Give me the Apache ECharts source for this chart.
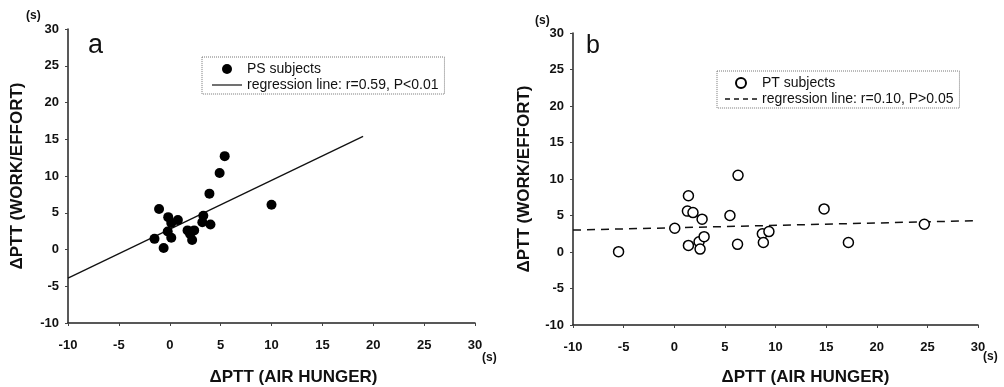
<!DOCTYPE html>
<html>
<head>
<meta charset="utf-8">
<style>
  html, body { margin: 0; padding: 0; background: #fff; }
  #chart { width: 1004px; height: 387px; }
</style>
<script src="https://cdn.jsdelivr.net/npm/echarts@6/dist/echarts.min.js"></script>
</head>
<body>
<div id="chart"></div>
<script>
// panel a - PS subjects
const psAir  = [-1.5, -1.05, -0.6, -0.15, -0.2, 0.15, 0.15, 0.8, 1.75, 2.0, 2.2, 2.4, 3.3, 3.2, 4.0, 3.9, 4.9, 5.4, 10.0];
const psWork = [1.45, 5.5, 0.2, 4.4, 2.45, 1.6, 3.6, 4.0, 2.6, 2.1, 1.3, 2.6, 4.6, 3.7, 3.4, 7.6, 10.4, 12.7, 6.1];
const psFitX = [-10, 19];
const psFitY = [-3.9, 15.4];

// panel b - PT subjects
const ptAir  = [-5.5, 0.05, 1.4, 1.3, 1.85, 2.75, 1.4, 2.45, 2.55, 2.95, 5.5, 6.3, 6.25, 8.7, 9.35, 8.8, 14.8, 17.2, 24.7];
const ptWork = [0.05, 3.25, 7.7, 5.6, 5.4, 4.5, 0.9, 1.4, 0.4, 2.1, 5.0, 10.5, 1.05, 2.5, 2.8, 1.3, 5.9, 1.3, 3.8];
const ptFitX = [-10, 30];
const ptFitY = [3.0, 4.3];

const axisMin = -10;
const axisMax = 30;
const axisStep = 5;

const pairs = (xs, ys) => xs.map((x, i) => [x, ys[i]]);

const chart = echarts.init(document.getElementById('chart'));

const font = 'Liberation Sans, Arial, sans-serif';

// legend icons for the regression lines (solid / dashed)
const solidIcon = 'path://M0,0h30v1.2h-30z';
const dashIcon = 'path://M0,0h5v1.4h-5zM9,0h5v1.4h-5zM18,0h5v1.4h-5zM27,0h5v1.4h-5z';

const makeX = (gridIndex, namePad, gap) => ({
  type: 'value',
  gridIndex,
  min: axisMin,
  max: axisMax,
  interval: axisStep,
  name: '\u0394PTT (AIR HUNGER)',
  nameLocation: 'middle',
  nameGap: gap,
  nameTextStyle: { fontFamily: font, fontSize: 17, fontWeight: 'bold', color: '#111', padding: [0, 0, 0, namePad] },
  axisLine: { onZero: false, lineStyle: { color: '#222', width: 1.5 } },
  axisTick: { length: 3, lineStyle: { color: '#444' } },
  axisLabel: { fontFamily: font, fontSize: 13, fontWeight: 'bold', color: '#111', margin: 16 },
  splitLine: { show: false }
});

const makeY = (gridIndex, gap) => ({
  type: 'value',
  gridIndex,
  min: axisMin,
  max: axisMax,
  interval: axisStep,
  name: '\u0394PTT (WORK/EFFORT)',
  nameLocation: 'middle',
  nameGap: gap,
  nameTextStyle: { fontFamily: font, fontSize: 17, fontWeight: 'bold', color: '#111' },
  axisLine: { onZero: false, lineStyle: { color: '#222', width: 1.5 } },
  axisTick: { length: 3, lineStyle: { color: '#444' } },
  axisLabel: { fontFamily: font, fontSize: 13, fontWeight: 'bold', color: '#111', margin: 9 },
  splitLine: { show: false }
});

const legendBase = {
  orient: 'vertical',
  itemWidth: 30,
  itemHeight: 10,
  itemGap: 2,
  borderColor: '#777',
  borderWidth: 1,
  borderType: 'dotted',
  backgroundColor: '#fff',
  textStyle: { fontFamily: font, fontSize: 14, color: '#111' }
};

const unitStyle = { fontFamily: font, fontSize: 12, fontWeight: 'bold', fill: '#111' };

const option = {
  animation: false,
  backgroundColor: '#fff',
  grid: [
    { left: 68, top: 29, width: 407, height: 294, outerBoundsMode: 'none' },
    { left: 573, top: 33, width: 405, height: 292, outerBoundsMode: 'none' }
  ],
  xAxis: [makeX(0, 44, 46), makeX(1, 60, 44)],
  yAxis: [makeY(0, 42), makeY(1, 40)],
  legend: [
    Object.assign({}, legendBase, {
      left: 202, top: 57, padding: [5, 6, 2, 10],
      data: [
        { name: 'PS subjects', icon: 'circle' },
        { name: 'regression line: r=0.59, P<0.01', icon: solidIcon }
      ]
    }),
    Object.assign({}, legendBase, {
      left: 717, top: 71, padding: [5, 6, 2, 8], itemWidth: 32,
      data: [
        { name: 'PT subjects', icon: 'circle' },
        { name: 'regression line: r=0.10, P>0.05', icon: dashIcon }
      ]
    })
  ],
  graphic: [
    { type: 'text', left: 88, top: 32, style: { text: 'a', fontFamily: font, fontSize: 27, fill: '#111' } },
    { type: 'text', left: 586, top: 34, style: { text: 'b', fontFamily: font, fontSize: 25, fill: '#111' } },
    { type: 'text', left: 26, top: 10, style: Object.assign({ text: '(s)' }, unitStyle) },
    { type: 'text', left: 535, top: 15, style: Object.assign({ text: '(s)' }, unitStyle) },
    { type: 'text', left: 482, top: 352, style: Object.assign({ text: '(s)' }, unitStyle) },
    { type: 'text', left: 983, top: 351, style: Object.assign({ text: '(s)' }, unitStyle) }
  ],
  series: [
    {
      name: 'regression line: r=0.59, P<0.01',
      type: 'line',
      xAxisIndex: 0, yAxisIndex: 0,
      data: pairs(psFitX, psFitY),
      symbol: 'none',
      itemStyle: { color: '#111' },
      lineStyle: { color: '#111', width: 1.3 },
      z: 2
    },
    {
      name: 'PS subjects',
      type: 'scatter',
      xAxisIndex: 0, yAxisIndex: 0,
      data: pairs(psAir, psWork),
      symbolSize: 10,
      itemStyle: { color: '#000', opacity: 1 },
      z: 3
    },
    {
      name: 'regression line: r=0.10, P>0.05',
      type: 'line',
      xAxisIndex: 1, yAxisIndex: 1,
      data: pairs(ptFitX, ptFitY),
      symbol: 'none',
      itemStyle: { color: '#111' },
      lineStyle: { color: '#111', width: 1.5, type: [8, 6] },
      z: 2
    },
    {
      name: 'PT subjects',
      type: 'scatter',
      xAxisIndex: 1, yAxisIndex: 1,
      data: pairs(ptAir, ptWork),
      symbolSize: 10,
      itemStyle: { color: '#fff', borderColor: '#000', borderWidth: 1.5, opacity: 1 },
      z: 3
    }
  ]
};

chart.setOption(option);
</script>
</body>
</html>
